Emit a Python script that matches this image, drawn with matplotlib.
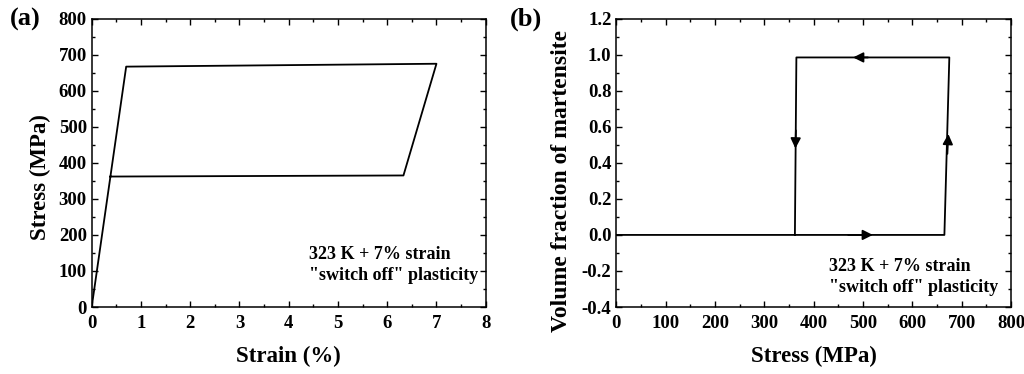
import numpy as np
import matplotlib.pyplot as plt
from matplotlib.ticker import MultipleLocator

plt.rcParams['font.family'] = ['Liberation Serif', 'DejaVu Serif']
plt.rcParams['font.weight'] = 'bold'

# (a) stress-strain loop
strain = [0.0, 0.70, 7.00, 6.33, 0.38]
stress = [0.0, 667, 675, 365, 362]

# (b) martensite fraction vs stress
b_stress = [0.0, 665, 675, 365, 362, 362]
b_frac = [0.0, 0.0, 0.985, 0.985, 0.0, 0.0]

# arrows on panel (b): (x_from, y_from, x_to, y_to)
arrows = [
    (470, 0.0, 520, 0.0),
    (671, 0.45, 673, 0.56),
    (510, 0.985, 480, 0.985),
    (364, 0.58, 363, 0.48),
]

note = '323 K + 7% strain\n"switch off" plasticity'

fig = plt.figure(figsize=(10.24, 3.74), dpi=100)
ax1 = fig.add_axes([91.7/1024, 1-307/374, 394/1024, 288.3/374])
ax2 = fig.add_axes([616.3/1024, 1-307/374, 394.7/1024, 288.3/374])

def style(ax):
    ax.tick_params(which='both', direction='in', top=True, right=True,
                   labelsize=13.5, width=1.0)
    ax.tick_params(which='major', length=4.5)
    ax.tick_params(which='minor', length=2.5)
    ax.tick_params(axis='x', pad=6)
    for s in ax.spines.values():
        s.set_linewidth(1.1)
    for lab in ax.get_xticklabels() + ax.get_yticklabels():
        lab.set_fontweight('bold')

# panel (a)
ax1.plot(strain, stress, color='k', lw=1.3)
ax1.set_xlim(0, 8)
ax1.set_ylim(0, 800)
ax1.xaxis.set_major_locator(MultipleLocator(1))
ax1.xaxis.set_minor_locator(MultipleLocator(0.5))
ax1.yaxis.set_major_locator(MultipleLocator(100))
ax1.yaxis.set_minor_locator(MultipleLocator(50))
style(ax1)
ax1.set_xlabel('Strain (%)', fontsize=16.5, fontweight='bold', labelpad=10)
ax1.set_ylabel('Stress (MPa)', fontsize=16.5, fontweight='bold')
ax1.yaxis.set_label_coords(-0.103, 0.45)
ax1.text(0.551, 0.145, note, transform=ax1.transAxes, fontsize=13,
         fontweight='bold', va='center', ha='left', linespacing=1.3)
fig.text(10/1024, 1-19/374, '(a)', fontsize=19, fontweight='bold', va='center')

# panel (b)
ax2.plot(b_stress, b_frac, color='k', lw=1.3)
for x0, y0, x1, y1 in arrows:
    ax2.annotate('', xy=(x1, y1), xytext=(x0, y0),
                 arrowprops=dict(arrowstyle='-|>', color='k', lw=1.3,
                                 mutation_scale=15, shrinkA=0, shrinkB=0))
ax2.set_xlim(0, 800)
ax2.set_ylim(-0.4, 1.2)
ax2.xaxis.set_major_locator(MultipleLocator(100))
ax2.xaxis.set_minor_locator(MultipleLocator(50))
ax2.yaxis.set_major_locator(MultipleLocator(0.2))
ax2.yaxis.set_minor_locator(MultipleLocator(0.1))
ax2.yaxis.set_major_formatter(plt.FuncFormatter(lambda v, p: f'{v:.1f}'))
style(ax2)
ax2.set_xlabel('Stress (MPa)', fontsize=16.5, fontweight='bold', labelpad=10)
ax2.set_ylabel('Volume fraction of martensite', fontsize=17, fontweight='bold')
ax2.yaxis.set_label_coords(-0.112, 0.437)
ax2.text(0.538, 0.104, note, transform=ax2.transAxes, fontsize=13,
         fontweight='bold', va='center', ha='left', linespacing=1.3)
fig.text(510/1024, 1-19/374, '(b)', fontsize=19, fontweight='bold', va='center')

fig.savefig('out.png', dpi=100)
